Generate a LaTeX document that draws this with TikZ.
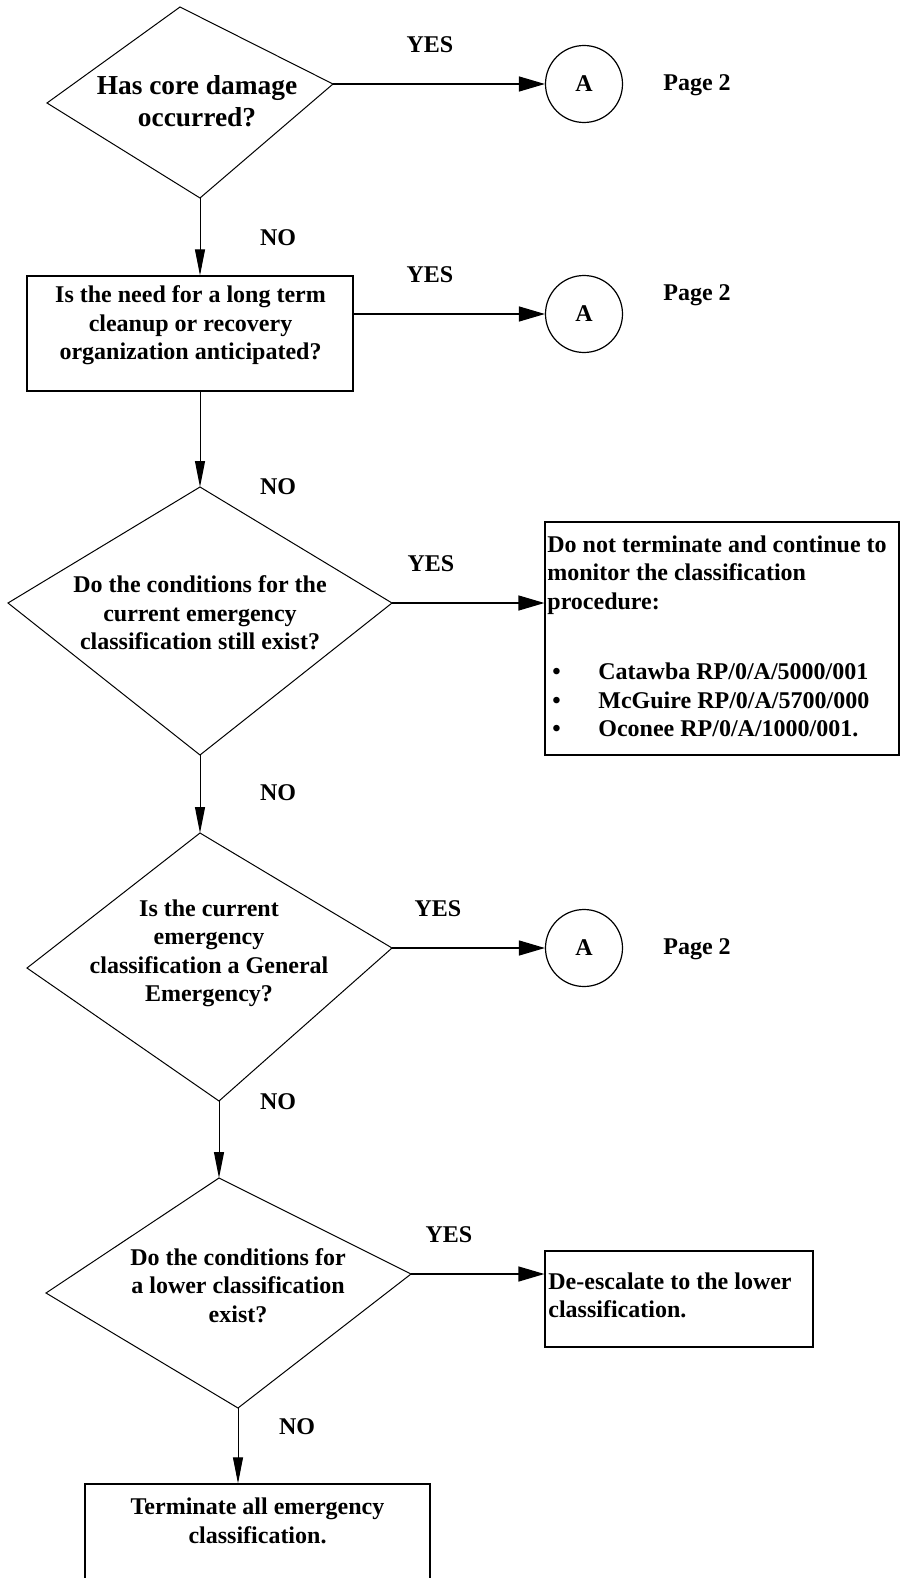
\documentclass[tikz,border=0pt]{standalone}
\usepackage{fontspec}
\setmainfont{Liberation Serif}
\usetikzlibrary{arrows.meta}
\tikzset{
  shp/.style={draw, line width=0.5pt},
  boxst/.style={draw, line width=0.6pt, inner sep=0pt},
  txt/.style={font=\bfseries\fontsize{12}{14.25}\selectfont, align=center, inner sep=0pt},
  bigtxt/.style={font=\bfseries\fontsize{13.7}{16}\selectfont, align=center, inner sep=0pt},
  lbl/.style={font=\bfseries\fontsize{12}{14.25}\selectfont, inner sep=0pt},
  conn/.style={circle, draw, line width=0.6pt, minimum size=38.5pt, inner sep=0pt, font=\bfseries\fontsize{12}{14}\selectfont},
  harr/.style={draw, line width=0.65pt, -{Triangle[length=13pt,width=7.5pt]}},
  varr/.style={draw, line width=0.5pt, -{Triangle[length=13pt,width=5pt]}},
}
\begin{document}
\begin{tikzpicture}[x=0.5pt,y=-0.5pt]
\clip (0,0) rectangle (900,1578);
\fill[white] (0,0) rectangle (900,1578);

% diamond 1
\coordinate (d1t) at (180,7);
\coordinate (d1r) at (333,84);
\coordinate (d1b) at (200,198);
\coordinate (d1l) at (47,103);
\draw[shp] (d1t) -- (d1r) -- (d1b) -- (d1l) -- cycle;
\node[bigtxt] (t1) at (197,101) {Has core damage\\occurred?};

% connectors A
\node[conn] (c1) at (584,84) {A};
\node[conn] (c2) at (584,314) {A};
\node[conn] (c3) at (584,948) {A};
\node[lbl] (p1) at (697,85) {Page 2};
\node[lbl] (p2) at (697,295) {Page 2};
\node[lbl] (p3) at (697,949) {Page 2};

% box 2
\node[boxst, minimum width=163pt, minimum height=57.5pt] (b2) at (190,333.5) {};
\node[txt] (t2) at (190.5,325.5) {Is the need for a long term\\cleanup or recovery\\organization anticipated?};

% diamond 3
\coordinate (d3t) at (200,487);
\coordinate (d3r) at (392,603);
\coordinate (d3b) at (200,755);
\coordinate (d3l) at (8,603);
\draw[shp] (d3t) -- (d3r) -- (d3b) -- (d3l) -- cycle;
\node[txt] (t3) at (200,613) {Do the conditions for the\\current emergency\\classification still exist?};

% box 3
\node[boxst, minimum width=177pt, minimum height=116.5pt] (b3) at (722,638.5) {};
\node[txt, align=left, anchor=west] (t3b) at (547,636.5) {Do not terminate and continue to\\monitor the classification\\procedure:\\[21pt]\hspace*{2.5pt}\makebox[23pt][l]{\textbullet}Catawba RP/0/A/5000/001\\\hspace*{2.5pt}\makebox[23pt][l]{\textbullet}McGuire RP/0/A/5700/000\\\hspace*{2.5pt}\makebox[23pt][l]{\textbullet}Oconee RP/0/A/1000/001.};

% diamond 4
\coordinate (d4t) at (200,833);
\coordinate (d4r) at (392,948);
\coordinate (d4b) at (219,1101);
\coordinate (d4l) at (27,968);
\draw[shp] (d4t) -- (d4r) -- (d4b) -- (d4l) -- cycle;
\node[txt] (t4) at (209,953.5) {Is the current\\emergency\\classification a General\\Emergency?};

% diamond 5
\coordinate (d5t) at (219,1178);
\coordinate (d5r) at (411,1274);
\coordinate (d5b) at (238,1408);
\coordinate (d5l) at (46,1293);
\draw[shp] (d5t) -- (d5r) -- (d5b) -- (d5l) -- cycle;
\node[txt] (t5) at (238,1285.5) {Do the conditions for\\a lower classification\\exist?};

% box 5
\node[boxst, minimum width=134pt, minimum height=48pt] (b5) at (679,1299) {};
\node[txt, align=left, anchor=west] (t5b) at (548,1295.5) {De-escalate to the lower\\classification.};

% box 6
\node[boxst, minimum width=172.5pt, minimum height=58pt] (b6) at (257.5,1542) {};
\node[txt] (t6) at (257.5,1521) {Terminate all emergency\\classification.};

% labels
\node[lbl] (y1) at (430,45) {YES};
\node[lbl] (y2) at (430,275) {YES};
\node[lbl] (y3) at (431,564) {YES};
\node[lbl] (y4) at (438,909) {YES};
\node[lbl] (y5) at (449,1235) {YES};
\node[lbl] (n1) at (278,238) {NO};
\node[lbl] (n2) at (278,487) {NO};
\node[lbl] (n3) at (278,793) {NO};
\node[lbl] (n4) at (278,1102) {NO};
\node[lbl] (n5) at (297,1427) {NO};

% connectors
\draw[harr] (d1r) -- (c1);
\draw[varr] (d1b) -- (d1b |- b2.north);
\draw[harr] (c2 -| b2.east) -- (c2);
\draw[varr] (d3t |- b2.south) -- (d3t);
\draw[harr] (d3r) -- (d3r -| b3.west);
\draw[varr] (d3b) -- (d4t);
\draw[harr] (d4r) -- (c3);
\draw[varr] (d4b) -- (d5t);
\draw[harr] (d5r) -- (d5r -| b5.west);
\draw[varr] (d5b) -- (d5b |- b6.north);
\end{tikzpicture}
\end{document}
